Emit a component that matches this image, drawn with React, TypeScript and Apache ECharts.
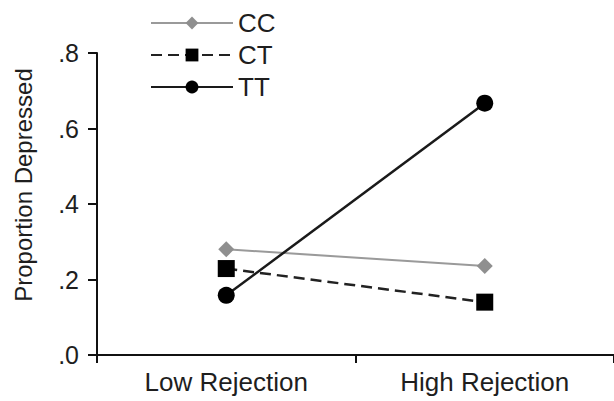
import React, { useEffect, useRef } from "react";
import * as echarts from "echarts";

const categories = ["Low Rejection", "High Rejection"];
const seriesNames = ["CC", "CT", "TT"];
const ccValues = [0.28, 0.236];
const ctValues = [0.229, 0.14];
const ttValues = [0.158, 0.667];
const yTicks = [0, 0.2, 0.4, 0.6, 0.8];

const FONT = "'Liberation Sans', Arial, sans-serif";
const TEXT = "#1e1e1e";

export default function App() {
  const ref = useRef<HTMLDivElement>(null);
  useEffect(() => {
    if (!ref.current) return;
    const chart = echarts.init(ref.current, null, { renderer: "svg" });
    chart.setOption({
      animation: false,
      backgroundColor: "#ffffff",
      textStyle: { fontFamily: FONT, color: TEXT },
      grid: { left: 97, top: 53, bottom: 46, width: 520, containLabel: false },
      legend: {
        orient: "vertical",
        left: 145,
        top: 5,
        itemWidth: 82,
        itemHeight: 16,
        itemGap: 6,
        data: seriesNames,
        textStyle: { fontSize: 26, color: TEXT, fontFamily: FONT, lineHeight: 25 },
      },
      graphic: [
        {
          type: "text",
          x: 23,
          y: 185,
          rotation: Math.PI / 2,
          style: {
            text: "Proportion Depressed",
            fontSize: 24,
            fontFamily: FONT,
            fill: TEXT,
            align: "center",
            verticalAlign: "middle",
          },
        },
      ],
      xAxis: {
        type: "category",
        data: categories,
        boundaryGap: true,
        axisLine: { lineStyle: { color: "#111", width: 2 } },
        axisTick: { show: true, length: 8, lineStyle: { color: "#111", width: 2 } },
        axisLabel: { fontSize: 26, color: TEXT, fontFamily: FONT, margin: 14 },
        splitLine: { show: false },
      },
      yAxis: {
        type: "value",
        min: yTicks[0],
        max: yTicks[yTicks.length - 1],
        interval: 0.2,
        axisLine: { show: true, lineStyle: { color: "#111", width: 2 } },
        axisTick: { show: true, length: 9, lineStyle: { color: "#111", width: 2 } },
        axisLabel: {
          fontSize: 25,
          color: TEXT,
          fontFamily: FONT,
          margin: 18,
          formatter: (v: number) => {
            const t = yTicks.find((x) => Math.abs(x - v) < 1e-9);
            const s = (t ?? v).toFixed(1);
            return s.replace(/^0/, "");
          },
        },
        splitLine: { show: false },
      },
      series: [
        {
          name: seriesNames[0],
          type: "line",
          data: ccValues,
          symbol: "diamond",
          symbolSize: 16,
          color: "#959595",
          lineStyle: { color: "#9a9a9a", width: 2 },
          itemStyle: { color: "#8f8f8f" },
        },
        {
          name: seriesNames[1],
          type: "line",
          data: ctValues,
          symbol: "rect",
          symbolSize: 17,
          color: "#000",
          lineStyle: { color: "#222", width: 2.5, type: [11, 6] },
          itemStyle: { color: "#000" },
        },
        {
          name: seriesNames[2],
          type: "line",
          data: ttValues,
          symbol: "circle",
          symbolSize: 17,
          color: "#000",
          lineStyle: { color: "#1a1a1a", width: 2.5 },
          itemStyle: { color: "#000" },
        },
      ],
    });
    return () => chart.dispose();
  }, []);
  return (
    <div
      ref={ref}
      style={{ position: "fixed", left: 0, top: 0, width: 614, height: 401, background: "#fff" }}
    />
  );
}
